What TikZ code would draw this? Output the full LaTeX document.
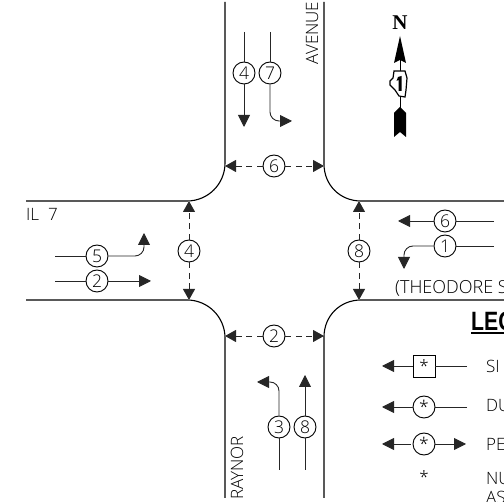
\documentclass[tikz,border=0pt]{standalone}
\usepackage{fontspec}
\setmainfont{Open Sans Light}
\newfontfamily\boldsans{Liberation Sans}[FakeStretch=0.8]
\newfontfamily\serifbold{Liberation Serif}
\usetikzlibrary{arrows.meta}
\tikzset{
 road/.style={line width=1.1pt,black},
 flow/.style={line width=.9pt,black!85,-{Triangle[length=12pt,width=12pt]}},
 flowplain/.style={line width=.9pt,black!85},
 ped/.style={line width=.9pt,black!85,dash pattern=on 6pt off 4.5pt,-{Triangle[length=11pt,width=12pt]}},
 num/.style={circle,draw,line width=.9pt,fill=white,minimum size=22pt,inner sep=0pt,font=\fontsize{17.5}{17.5}\selectfont},
 squarenum/.style={draw,line width=.9pt,fill=white,minimum size=22pt,inner sep=0pt,font=\fontsize{17}{17}\selectfont},
 lbl/.style={inner sep=0pt,font=\fontsize{17}{17}\selectfont},
}
\begin{document}
\begin{tikzpicture}[x=1pt,y=-1pt]
\useasboundingbox (0,0) rectangle (504,502);
\clip (0,0) rectangle (504,502);
% roads
\draw[road] (225,2) -- (225,163) .. controls (225,184) and (208,201) .. (187,201) -- (26,201);
\draw[road] (26,300) -- (187,300) .. controls (208,300) and (225,317) .. (225,338) -- (225,498);
\draw[road] (324,2) -- (324,164) .. controls (324,185) and (340,201) .. (361,201) -- (504,201);
\draw[road] (504,300) -- (361,300) .. controls (340,300) and (324,316) .. (324,337) -- (324,498);
% street names
\node[lbl,rotate=90] (avenue) at (312,33) {AVENUE};
\node[lbl,rotate=90] (raynor) at (237,468) {RAYNOR};
\node[lbl,anchor=west] (il) at (26,214) {IL\hspace{9pt}7};
\node[lbl,anchor=west,font=\fontsize{18}{18}\selectfont] (theo) at (395,288) {(THEODORE S};
% top movements
\coordinate (a4) at (244,32); \coordinate (a4e) at (244,127);
\coordinate (a7) at (270,32); \coordinate (a7e) at (292,121);
\node[num] (n4t) at (244,73) {4};
\node[num] (n7t) at (270,73) {7};
\draw[flowplain] (a4) -- (n4t);
\draw[flow] (n4t) -- (a4e);
\draw[flowplain] (a7) -- (n7t);
\draw[flow,rounded corners=9pt] (n7t) -- (270,121) -- (a7e);
% top ped
\coordinate (p6l) at (225,166); \coordinate (p6r) at (324,166);
\node[num] (n6t) at (274,166) {6};
\draw[ped] (n6t) -- (p6l);
\draw[ped] (n6t) -- (p6r);
% left
\coordinate (a5) at (55,256); \coordinate (a5e) at (144,233);
\coordinate (a2) at (55,281); \coordinate (a2e) at (151,281);
\node[num] (n5l) at (97,256) {5};
\node[num] (n2l) at (97,281) {2};
\draw[flowplain] (a5) -- (n5l);
\draw[flow,rounded corners=9pt] (n5l) -- (144,256) -- (a5e);
\draw[flowplain] (a2) -- (n2l);
\draw[flow] (n2l) -- (a2e);
% left ped
\coordinate (p4t) at (189,201); \coordinate (p4b) at (189,300);
\node[num] (n4l) at (189,251) {4};
\draw[ped] (n4l) -- (p4t);
\draw[ped] (n4l) -- (p4b);
% right ped
\coordinate (p8t) at (359,201); \coordinate (p8b) at (359,300);
\node[num] (n8r) at (359,251) {8};
\draw[ped] (n8r) -- (p8t);
\draw[ped] (n8r) -- (p8b);
% right
\coordinate (a6) at (494,221); \coordinate (a6e) at (398,221);
\coordinate (a1) at (494,246); \coordinate (a1e) at (404,269);
\node[num] (n6r) at (445,221) {6};
\node[num] (n1r) at (445,246) {1};
\draw[flowplain] (a6) -- (n6r);
\draw[flow] (n6r) -- (a6e);
\draw[flowplain] (a1) -- (n1r);
\draw[flow,rounded corners=9pt] (n1r) -- (404,246) -- (a1e);
% bottom ped
\coordinate (p2l) at (225,336); \coordinate (p2r) at (324,336);
\node[num] (n2b) at (274,336) {2};
\draw[ped] (n2b) -- (p2l);
\draw[ped] (n2b) -- (p2r);
% bottom
\coordinate (a3) at (279,470); \coordinate (a3e) at (257,382);
\coordinate (a8) at (305,470); \coordinate (a8e) at (305,375);
\node[num] (n3b) at (279,427) {3};
\node[num] (n8b) at (305,427) {8};
\draw[flowplain] (a3) -- (n3b);
\draw[flow,rounded corners=9pt] (n3b) -- (279,382) -- (a3e);
\draw[flowplain] (a8) -- (n8b);
\draw[flow] (n8b) -- (a8e);
% north arrow
\node[inner sep=0pt,font=\serifbold\bfseries\fontsize{21}{21}\selectfont] (north) at (400,22.5) {N};
\fill[black] (400,36) -- (406,63) -- (400,60) -- (394,63) -- cycle;
\draw[line width=1pt] (400,60) -- (400,71) (400,97) -- (400,108);
\draw[line width=1.2pt,fill=white] (394,71) -- (405,71) -- (407,78) -- (406,90) -- (405,97) -- (399,96) -- (395,90) -- (390,85) -- (390,81) -- (393,78) -- cycle;
\fill[black] (398,77) -- (401.5,76) -- (401.5,91) -- (398.5,91) -- (398.5,80) -- (396.5,81) -- cycle;
\fill[black] (400,107) -- (406,113) -- (406,137) -- (400,132) -- (394,137) -- (394,113) -- cycle;
% legend
\node[inner sep=0pt,anchor=west,font=\boldsans\bfseries\fontsize{26.5}{26.5}\selectfont] (leg) at (471,321.5) {LEG};
\draw[line width=1.4pt] (471,333) -- (504,333);
\coordinate (l1r) at (467,366); \coordinate (l1l) at (382,366);
\node[squarenum] (l1) at (424,366) {*};
\draw[flowplain] (l1r) -- (l1);
\draw[flow] (l1) -- (l1l);
\coordinate (l2r) at (467,407); \coordinate (l2l) at (382,407);
\node[num] (l2) at (424,407) {*};
\draw[flowplain] (l2r) -- (l2);
\draw[flow] (l2) -- (l2l);
\coordinate (l3r) at (466,444); \coordinate (l3l) at (382,444);
\node[num] (l3) at (424,444) {*};
\draw[flow,shorten <=2pt] (l3) -- (l3l);
\draw[flow] (l3) -- (l3r);
\node[inner sep=0pt,font=\fontsize{17}{17}\selectfont] (l4) at (424,477) {*};
\node[lbl,anchor=west] (t1) at (486,366) {SI};
\node[lbl,anchor=west] (t2) at (486,406) {DU};
\node[lbl,anchor=west] (t3) at (486,444) {PE};
\node[lbl,anchor=west] (t4) at (486,479) {NU};
\node[lbl,anchor=west] (t5) at (486,497) {AS};
\end{tikzpicture}
\end{document}
